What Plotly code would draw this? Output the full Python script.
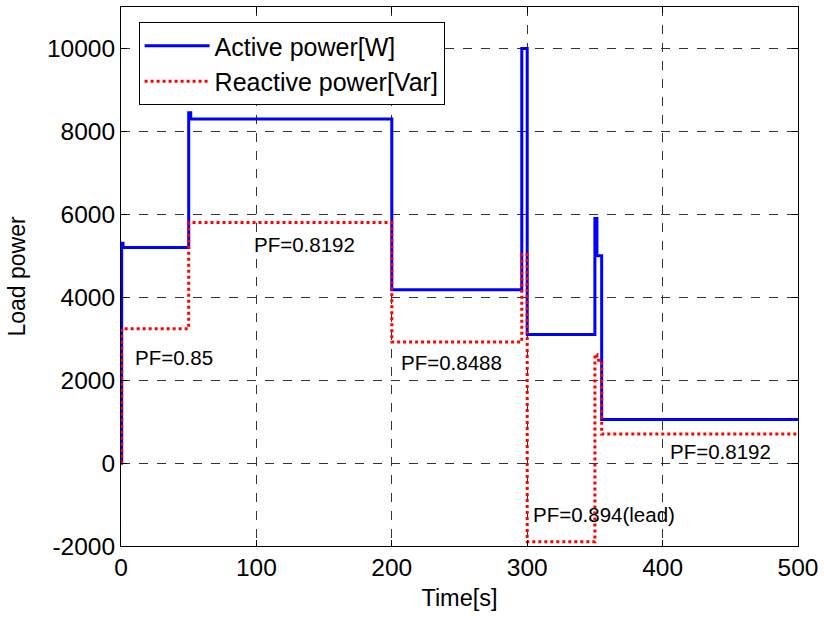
import plotly.graph_objects as go

# Active power step data (time [s], value [W]) - value holds until next time
active_t = [0, 0.5, 1.5, 50, 51.5, 200, 296, 300, 350, 351.5, 355, 500]
active_p = [0, 5300, 5200, 8450, 8300, 4180, 10000, 3100, 5900, 5000, 1050, 1050]

# Reactive power step data (time [s], value [Var])
reactive_t = [0, 0.5, 50, 200, 296, 300, 350, 351.5, 355, 500]
reactive_q = [0, 3240, 5800, 2920, 5030, -1900, 2620, 2480, 700, 700]

# Power-factor labels
pf_text = ["PF=0.85", "PF=0.8192", "PF=0.8488", "PF=0.894(lead)", "PF=0.8192"]
pf_x = [8.5, 97, 205.5, 303, 404]
pf_y = [2540, 5260, 2430, -1250, 290]

x_ticks = [0, 100, 200, 300, 400, 500]
x_labels = ["0", "100", "200", "300", "400", "500"]
y_ticks = [-2000, 0, 2000, 4000, 6000, 8000, 10000]
y_labels = ["-2000", "0", "2000", "4000", "6000", "8000", "10000"]

FONT = "Liberation Sans, Arial, sans-serif"

fig = go.Figure()
fig.add_trace(go.Scatter(
    x=active_t, y=active_p, mode="lines", line_shape="hv",
    name="Active power[W]",
    line=dict(color="#0000ff", width=3),
))
fig.add_trace(go.Scatter(
    x=reactive_t, y=reactive_q, mode="lines", line_shape="hv",
    name="Reactive power[Var]",
    line=dict(color="#ff0000", width=3, dash="dot"),
))

for t, x, y in zip(pf_text, pf_x, pf_y):
    fig.add_annotation(x=x, y=y, text=t, showarrow=False,
                       xanchor="left", yanchor="middle",
                       font=dict(family=FONT, size=20.5, color="black"))

axis_common = dict(
    showline=True, linecolor="black", linewidth=1, mirror="ticks",
    ticks="inside", ticklen=6, tickcolor="black",
    showgrid=True, gridcolor="#333333", gridwidth=1, griddash="dash",
    zeroline=False,
    tickfont=dict(family=FONT, size=24.5, color="black"),
)

fig.update_xaxes(range=[0, 500], tickvals=x_ticks, ticktext=x_labels,
                 title=dict(text="Time[s]", font=dict(family=FONT, size=23.5, color="black"), standoff=9),
                 **axis_common)
fig.update_yaxes(range=[-2000, 11000], tickvals=y_ticks, ticktext=y_labels,
                 title=dict(text="Load power", font=dict(family=FONT, size=23, color="black"), standoff=14),
                 **axis_common)

fig.update_layout(
    width=825, height=617,
    margin=dict(l=121, r=27, t=7, b=71),
    paper_bgcolor="white", plot_bgcolor="white",
    font=dict(family=FONT, color="black"),
    showlegend=True,
    legend=dict(
        x=0.026, y=0.972, xanchor="left", yanchor="top",
        bgcolor="white", bordercolor="black", borderwidth=1,
        font=dict(family=FONT, size=25, color="black"),
        itemwidth=65, tracegroupgap=0,
    ),
)

fig.write_html("out.html")
